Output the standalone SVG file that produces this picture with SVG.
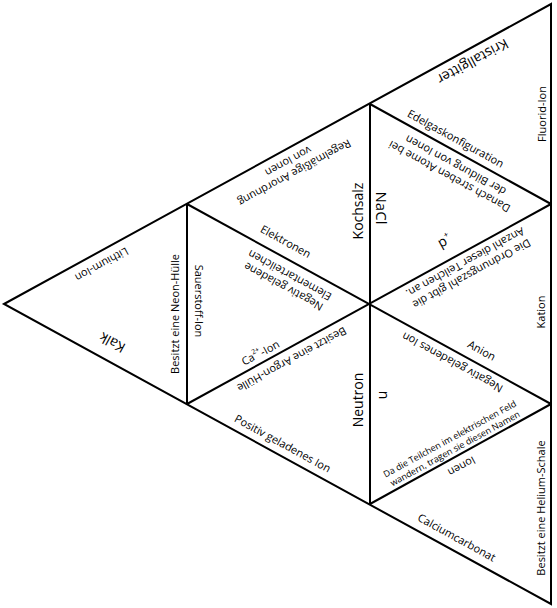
<svg xmlns="http://www.w3.org/2000/svg" width="557" height="608" viewBox="0 0 557 608">
<style>
text{font-family:"Open Sans","Noto Sans","Liberation Sans",sans-serif;font-size:11px;fill:#000;text-anchor:middle;dominant-baseline:central}
.big{font-size:14px}
.sm{font-size:9px}
.grid{stroke:#000;stroke-width:2;fill:none;stroke-linejoin:miter}
</style>
<rect width="557" height="608" fill="#fff"/>
<g id="connectors" class="grid">
<path d="M4,304 L551,4 L551,604 Z"/>
<path d="M187,204 V404"/>
<path d="M370,104 V504"/>
<path d="M187,204 L551,404"/>
<path d="M370,104 L551,204"/>
<path d="M187,404 L551,204"/>
<path d="M370,504 L551,404"/>
</g>
<g id="t1">
<text transform="translate(102,265) rotate(151.3)">Lithium-Ion</text>
<text class="big" transform="translate(112,343) rotate(-151.3)">Kalk</text>
<text transform="translate(174,314) rotate(-90)">Besitzt eine Neon-Hülle</text>
</g>
<g id="t2">
<text transform="translate(292,168) rotate(151.3)"><tspan x="0" y="-6.5">Regelmäßige Anordnung</tspan><tspan x="0" y="6.5">von Ionen</tspan></text>
<text class="big" transform="translate(357,211) rotate(-90)">Kochsalz</text>
<text transform="translate(286,241) rotate(28.7)">Elektronen</text>
</g>
<g id="t3">
<text transform="translate(199,301) rotate(90)">Sauerstoff-Ion</text>
<text transform="translate(286,282) rotate(-151.3)"><tspan x="0" y="-6.5">Negativ geladene</tspan><tspan x="0" y="6.5">Elementarteilchen</tspan></text>
<text transform="translate(260,352) rotate(-28.7)">Ca<tspan font-size="7" dy="-4">2+</tspan><tspan dy="4">-Ion</tspan></text>
</g>
<g id="t4">
<text transform="translate(292,360) rotate(151.3)">Besitzt eine Argon-Hülle</text>
<text class="big" transform="translate(357,400) rotate(-90)">Neutron</text>
<text transform="translate(283,443) rotate(28.7)">Positiv geladenes Ion</text>
</g>
<g id="t5">
<text class="big" transform="translate(473,62) rotate(151.3)">Kristallgitter</text>
<text transform="translate(541,114) rotate(-90)">Fluorid-Ion</text>
<text transform="translate(456,138) rotate(28.7)">Edelgaskonfiguration</text>
</g>
<g id="t6">
<text class="big" font-size="15" style="font-size:15px" transform="translate(382,208) rotate(90)">NaCl</text>
<text transform="translate(452,172) rotate(-151.3)"><tspan x="0" y="-6.5">Danach streben Atome bei</tspan><tspan x="0" y="6.5">der Bildung von Ionen</tspan></text>
<text class="big" transform="translate(444,240) rotate(-28.7)">p<tspan font-size="8" dy="-5">+</tspan></text>
</g>
<g id="t7">
<text transform="translate(469,269) rotate(151.3)"><tspan x="0" y="-6.5">Die Ordnungszahl gibt die</tspan><tspan x="0" y="6.5">Anzahl dieser Teilchen an.</tspan></text>
<text transform="translate(540,312) rotate(-90)">Kation</text>
<text transform="translate(482,350) rotate(28.7)">Anion</text>
</g>
<g id="t8">
<text transform="translate(452,363) rotate(-151.3)">Negativ geladenes Ion</text>
<text class="big" transform="translate(384,395) rotate(90)">n</text>
<text class="sm" transform="translate(452,443) rotate(-28.7)"><tspan x="0" y="-5.5">Da die Teilchen im elektrischen Feld</tspan><tspan x="0" y="5.5">wandern, tragen sie diesen Namen</tspan></text>
</g>
<g id="t9">
<text transform="translate(462,467) rotate(151.3)">Ionen</text>
<text transform="translate(540,508) rotate(-90)">Besitzt eine Helium-Schale</text>
<text transform="translate(457,537) rotate(28.7)">Calciumcarbonat</text>
</g>
</svg>
